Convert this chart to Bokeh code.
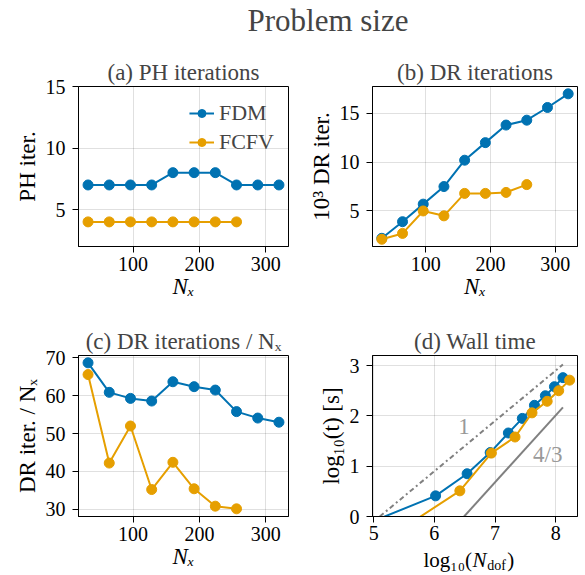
from bokeh.plotting import figure
from bokeh.layouts import column, row
from bokeh.models import FixedTicker, Legend, LegendItem, Label, Range1d
from bokeh.core.properties import value
from bokeh.embed import file_html
from bokeh.resources import INLINE

FONT = "Liberation Serif"
BLUE = "#0072B2"
ORANGE = "#E69F00"
GRAY = "#808080"
LABEL_GRAY = "#999999"

# ---------------- data ----------------
nx_fdm = [32, 64, 96, 128, 160, 192, 224, 256, 288, 320]
nx_fcfv = [32, 64, 96, 128, 160, 192, 224, 256]

ph_fdm = [7, 7, 7, 7, 8, 8, 8, 7, 7, 7]
ph_fcfv = [4, 4, 4, 4, 4, 4, 4, 4]

dr_fdm = [2.2, 3.9, 5.7, 7.5, 10.2, 12.0, 13.8, 14.3, 15.6, 17.0]
dr_fcfv = [2.1, 2.7, 5.0, 4.5, 6.8, 6.8, 6.9, 7.7]

drn_fdm = [68.7, 60.9, 59.3, 58.6, 63.7, 62.4, 61.5, 55.8, 54.1, 53.0]
drn_fcfv = [65.6, 42.2, 52.0, 35.2, 42.4, 35.4, 30.8, 30.1]

ndof_fdm = [5.12, 6.02, 6.54, 6.92, 7.22, 7.45, 7.65, 7.83, 7.98, 8.12]
t_fdm = [-0.03, 0.41, 0.85, 1.27, 1.66, 1.95, 2.21, 2.40, 2.58, 2.76]
ndof_fcfv = [5.52, 6.42, 6.94, 7.33, 7.61, 7.86, 8.05, 8.23]
t_fcfv = [-0.20, 0.51, 1.26, 1.58, 2.06, 2.29, 2.50, 2.71]

slope1_x = [5.10, 8.12]
slope1_y = [0.0, 3.02]
slope43_x = [6.49, 8.12]
slope43_y = [0.0, 2.17]

x_ticks_n = [100, 200, 300]
y_ticks_a = [5, 10, 15]
y_ticks_b = [5, 10, 15]
y_ticks_c = [30, 40, 50, 60, 70]
x_ticks_d = [5, 6, 7, 8]
y_ticks_d = [0, 1, 2, 3]

labels = ["FDM", "FCFV"]


def make_fig(width, height, left, right, top, bottom, xr, yr):
    p = figure(width=width, height=height, toolbar_location=None,
               output_backend="svg", x_range=Range1d(*xr), y_range=Range1d(*yr),
               min_border_left=left, min_border_right=right,
               min_border_top=top, min_border_bottom=bottom)
    p.background_fill_color = "white"
    p.border_fill_color = "white"
    p.outline_line_color = "black"
    p.outline_line_alpha = 1
    p.outline_line_width = 1
    return p


def style(p, title, xlabel, ylabel, xticks, yticks, xitalic=True):
    p.title.text = title
    p.title.text_font = FONT
    p.title.text_font_size = "23px"
    p.title.text_font_style = "normal"
    p.title.align = "center"
    p.title.standoff = 3
    p.xaxis.ticker = FixedTicker(ticks=xticks)
    p.yaxis.ticker = FixedTicker(ticks=yticks)
    for ax in p.axis:
        ax.axis_line_color = "black"
        ax.major_tick_line_color = "black"
        ax.major_tick_out = 6
        ax.major_tick_in = 0
        ax.minor_tick_line_color = None
        ax.major_label_text_font = FONT
        ax.major_label_text_font_size = "20px"
        ax.major_label_text_color = "black"
        ax.axis_label_text_font = FONT
        ax.axis_label_text_font_size = "23px"
        ax.axis_label_text_color = "black"
    if xlabel:
        p.xaxis.axis_label = xlabel
    p.yaxis.axis_label = ylabel
    p.xaxis.axis_label_text_font_style = "italic" if xitalic else "normal"
    p.yaxis.axis_label_text_font_style = "normal"
    p.xaxis.major_label_standoff = 4
    p.xaxis.axis_label_standoff = 0
    p.yaxis.major_label_standoff = 7
    p.yaxis.axis_label_standoff = 3
    p.grid.grid_line_color = "black"
    p.grid.grid_line_alpha = 0.12
    p.grid.grid_line_width = 1


def series(p, x, y, color, ymin=None):
    r_line = p.line(x, y, line_color=color, line_width=2)
    if ymin is None:
        xs, ys = x, y
    else:
        xs = [a for a, b in zip(x, y) if b >= ymin]
        ys = [b for b in y if b >= ymin]
    r_pts = p.scatter(xs, ys, size=10, fill_color=color, line_color=color)
    return r_line, r_pts


NX_RANGE = (17.6, 334.4)

# ---------------- title ----------------
tf = figure(width=585, height=45, toolbar_location=None, output_backend="svg",
            min_border_left=78, min_border_right=8, min_border_top=0,
            min_border_bottom=0, x_range=Range1d(0, 1), y_range=Range1d(0, 1))
tf.axis.visible = False
tf.grid.visible = False
tf.outline_line_color = None
tf.title.text = "Problem size"
tf.title.text_font = FONT
tf.title.text_font_size = "31px"
tf.title.text_font_style = "normal"
tf.title.align = "center"
tf.title.standoff = 0

# ---------------- (a) ----------------
pa = make_fig(305, 265, 78, 17, 41, 64, NX_RANGE, (2, 15))
style(pa, "(a) PH iterations", "Nₓ", "PH iter.", x_ticks_n, y_ticks_a)
la1, sa1 = series(pa, nx_fdm, ph_fdm, BLUE)
la2, sa2 = series(pa, nx_fcfv, ph_fcfv, ORANGE)
legend = Legend(items=[LegendItem(label=labels[0], renderers=[la1, sa1]),
                       LegendItem(label=labels[1], renderers=[la2, sa2])],
                location="top_right")
legend.border_line_alpha = 0
legend.background_fill_alpha = 0
legend.label_text_font = FONT
legend.label_text_font_size = "22px"
legend.glyph_width = 25
legend.glyph_height = 20
legend.label_standoff = 5
legend.spacing = 3
legend.padding = 0
legend.margin = 14
pa.add_layout(legend)

# ---------------- (b) ----------------
pb = make_fig(280, 265, 67, 8, 41, 64, NX_RANGE, (1.36, 17.75))
style(pb, "(b) DR iterations", "Nₓ", "10³ DR iter.", x_ticks_n, y_ticks_b)
series(pb, nx_fdm, dr_fdm, BLUE)
series(pb, nx_fcfv, dr_fcfv, ORANGE)

# ---------------- (c) ----------------
pc = make_fig(305, 265, 78, 17, 45, 59, NX_RANGE, (28.07, 70.64))
style(pc, "(c) DR iterations / Nₓ", "Nₓ", "DR iter. / Nₓ", x_ticks_n, y_ticks_c)
series(pc, nx_fdm, drn_fdm, BLUE)
series(pc, nx_fcfv, drn_fcfv, ORANGE)

# ---------------- (d) ----------------
D_YMIN = 0.0
STRIP_H = 28
pd_ = make_fig(280, 265 - STRIP_H, 67, 8, 45, 59 - STRIP_H, (4.98, 8.36), (D_YMIN, 3.2))
style(pd_, "(d) Wall time", None, "log₁₀(t) [s]", x_ticks_d, y_ticks_d)
pd_.xaxis.major_label_standoff = 3
pd_.line(slope1_x, slope1_y, line_color=GRAY, line_width=2, line_dash="5 3 2 3")
pd_.line(slope43_x, slope43_y, line_color=GRAY, line_width=2)
series(pd_, ndof_fdm, t_fdm, BLUE, ymin=D_YMIN)
series(pd_, ndof_fcfv, t_fcfv, ORANGE, ymin=D_YMIN)
pd_.add_layout(Label(x=6.49, y=1.79, text="1", text_align="center",
                     text_baseline="middle", text_font=FONT,
                     text_font_size="23px", text_color=LABEL_GRAY))
pd_.add_layout(Label(x=7.87, y=1.23, text="4/3", text_align="center",
                     text_baseline="middle", text_font=FONT,
                     text_font_size="23px", text_color=LABEL_GRAY))

# x-axis label of (d): log10(N_dof), composed in a strip sharing the x scale
lab = figure(width=280, height=STRIP_H, toolbar_location=None, output_backend="svg",
             x_range=pd_.x_range, y_range=Range1d(0, 1),
             min_border_left=67, min_border_right=8, min_border_top=0,
             min_border_bottom=0)
lab.axis.visible = False
lab.grid.visible = False
lab.outline_line_color = None
MAIN_Y = 0.57
SUB_Y = 0.36
lab.text(x=[6.62], y=[MAIN_Y], text=["log₁₀("], text_align="right",
         text_baseline="middle", text_font=value(FONT),
         text_font_size="21px", text_color="black")
lab.text(x=[6.63], y=[MAIN_Y], text=["N"], text_align="left",
         text_baseline="middle", text_font=value(FONT),
         text_font_style="italic", text_font_size="21px", text_color="black")
lab.text(x=[6.87], y=[SUB_Y], text=["dof"], text_align="left",
         text_baseline="middle", text_font=value(FONT),
         text_font_size="14px", text_color="black")
lab.text(x=[7.20], y=[MAIN_Y], text=[")"], text_align="left",
         text_baseline="middle", text_font=value(FONT),
         text_font_size="21px", text_color="black")

layout = column(tf, row(pa, pb), row(pc, column(pd_, lab)))

open("out.html", "w").write(file_html(layout, INLINE))
